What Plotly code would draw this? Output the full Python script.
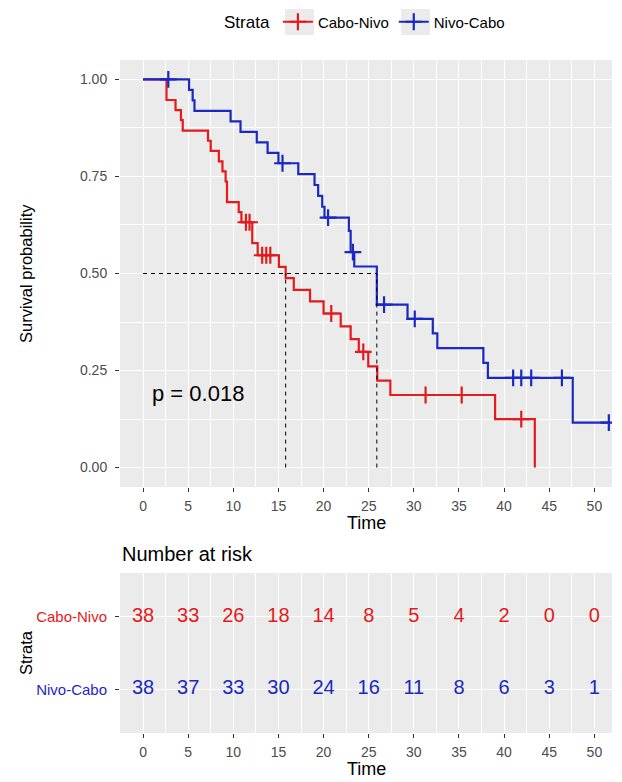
import numpy as np
import plotly.graph_objects as go

# ---------------- data ----------------
strata = ["Cabo-Nivo", "Nivo-Cabo"]
colors = ["#E41A1C", "#1A28C4"]

cabo_time = [0, 2.6, 3.6, 4.2, 4.4, 7.2, 7.5, 8.4, 8.8, 9.15, 9.3, 10.6, 10.9,
             12.1, 12.7, 15.05, 15.8, 16.7, 18.5, 20.0, 21.9, 23.0, 23.9,
             24.95, 25.95, 27.4, 39.0, 43.4]
cabo_surv = [1.0, 0.947, 0.921, 0.895, 0.868, 0.842, 0.816, 0.789, 0.763, 0.737,
             0.684, 0.658, 0.632, 0.578, 0.547, 0.517, 0.488, 0.458, 0.428,
             0.397, 0.364, 0.331, 0.298, 0.261, 0.224, 0.187, 0.125, 0.0]
cabo_censor = [11.4, 11.8, 13.2, 13.65, 14.1, 20.85, 24.4, 31.3, 35.3, 41.9]

nivo_time = [0, 5.1, 5.5, 5.7, 9.7, 10.8, 12.6, 13.8, 15.0, 17.2, 19.0, 19.4,
             19.85, 20.1, 22.8, 23.0, 23.4, 25.9, 29.3, 32.1, 32.6, 37.7, 38.2,
             47.6]
nivo_surv = [1.0, 0.973, 0.946, 0.919, 0.892, 0.865, 0.838, 0.811, 0.784, 0.756,
             0.728, 0.700, 0.672, 0.644, 0.610, 0.555, 0.518, 0.420, 0.383,
             0.346, 0.308, 0.270, 0.231, 0.116]
nivo_censor = [2.8, 15.45, 20.5, 23.25, 26.7, 30.1, 41.0, 41.9, 43.0, 46.4, 51.6]

median_times = [15.8, 25.9]          # Cabo-Nivo, Nivo-Cabo
p_value_label = "p = 0.018"

risk_times = [0, 5, 10, 15, 20, 25, 30, 35, 40, 45, 50]
risk_cabo = [38, 33, 26, 18, 14, 8, 5, 4, 2, 0, 0]
risk_nivo = [38, 37, 33, 30, 24, 16, 11, 8, 6, 3, 1]

x_ticks = [0, 5, 10, 15, 20, 25, 30, 35, 40, 45, 50]
y_ticks = [0, 0.25, 0.5, 0.75, 1.0]
y_tick_labels = ["0.00", "0.25", "0.50", "0.75", "1.00"]

# ---------------- helpers ----------------
W, H = 622, 782
FONT = "Liberation Sans, Arial, sans-serif"


def step_at(times, surv, t):
    i = int(np.searchsorted(np.asarray(times), t, side="right")) - 1
    return surv[i]


fig = go.Figure()

groups = [
    (strata[0], colors[0], cabo_time, cabo_surv, cabo_censor),
    (strata[1], colors[1], nivo_time, nivo_surv, nivo_censor),
]

for name, col, t, s, cens in groups:
    tend = max(max(t), max(cens))
    xs = list(t) + ([tend] if tend > max(t) else [])
    ys = list(s) + ([s[-1]] if tend > max(t) else [])
    fig.add_trace(go.Scatter(x=xs, y=ys, mode="lines", line=dict(color=col, width=2.2, shape="hv"),
                             showlegend=False, hoverinfo="skip", xaxis="x", yaxis="y"))
    fig.add_trace(go.Scatter(x=cens, y=[step_at(t, s, c) for c in cens], mode="markers",
                             marker=dict(symbol="cross-thin", size=12, line=dict(color=col, width=2.2)),
                             showlegend=False, hoverinfo="skip", xaxis="x", yaxis="y"))

# median dashed lines
mx, my = [0, max(median_times)], [0.5, 0.5]
for m in median_times:
    mx += [None, m, m]
    my += [None, 0, 0.5]
fig.add_trace(go.Scatter(x=mx, y=my, mode="lines", line=dict(color="black", width=1, dash="4px,4px"),
                         showlegend=False, hoverinfo="skip", xaxis="x", yaxis="y"))

# legend entries
for name, col, *_ in groups:
    fig.add_trace(go.Scatter(x=[None], y=[None], mode="lines+markers", name=name,
                             line=dict(color=col, width=2.2),
                             marker=dict(symbol="cross-thin", size=12, line=dict(color=col, width=2.2)),
                             xaxis="x", yaxis="y"))

# risk table
for yi, (vals, col) in zip([2, 1], [(risk_cabo, colors[0]), (risk_nivo, colors[1])]):
    fig.add_trace(go.Scatter(x=risk_times, y=[yi] * len(risk_times), mode="text",
                             text=[str(v) for v in vals], textposition="middle center",
                             textfont=dict(family=FONT, size=20, color=col),
                             showlegend=False, hoverinfo="skip", xaxis="x2", yaxis="y2"))

main_dom_x = [120 / W, 612 / W]
axis_common = dict(showline=False, zeroline=False, gridcolor="white", gridwidth=1.4,
                   ticks="outside", ticklen=4, tickwidth=1, tickcolor="#333333")
xfont = dict(family=FONT, size=14, color="#4D4D4D")
yfont = dict(family=FONT, size=14, color="#4D4D4D")

fig.update_layout(
    width=W, height=H, margin=dict(l=0, r=0, t=0, b=0),
    paper_bgcolor="white", plot_bgcolor="#EBEBEB",
    font=dict(family=FONT, color="black"),
    xaxis=dict(domain=main_dom_x, range=[-2.55, 51.95], anchor="y",
               tickmode="array", tickvals=x_ticks, tickfont=xfont, ticklabelstandoff=2,
               minor=dict(dtick=2.5, tick0=0, showgrid=True, gridcolor="white", gridwidth=0.7, ticks=""),
               **axis_common),
    yaxis=dict(domain=[1 - 487 / H, 1 - 60 / H], range=[-0.05, 1.05], anchor="x",
               tickmode="array", tickvals=y_ticks, ticktext=y_tick_labels, tickfont=yfont,
               ticklabelstandoff=5,
               minor=dict(dtick=0.125, tick0=0, showgrid=True, gridcolor="white", gridwidth=0.7, ticks=""),
               **axis_common),
    xaxis2=dict(domain=main_dom_x, range=[-2.55, 51.95], anchor="y2",
                tickmode="array", tickvals=x_ticks, tickfont=xfont, ticklabelstandoff=2,
                minor=dict(dtick=2.5, tick0=0, showgrid=True, gridcolor="white", gridwidth=0.7, ticks=""),
                **axis_common),
    yaxis2=dict(domain=[1 - 733 / H, 1 - 573 / H], range=[0.4, 2.6], anchor="x2",
                tickmode="array", tickvals=[2, 1], tickfont=dict(family=FONT, size=15, color="#4D4D4D"),
                ticklabelstandoff=5,
                ticktext=['<span style="color:%s">%s</span>' % (colors[0], strata[0]),
                          '<span style="color:%s">%s</span>' % (colors[1], strata[1])],
                **axis_common),
    legend=dict(orientation="h", x=222 / W, xanchor="left", y=1 - 22 / H, yanchor="middle",
                bgcolor="rgba(0,0,0,0)", title=dict(text="Strata", font=dict(family=FONT, size=17)),
                font=dict(family=FONT, size=15, color="black"), itemclick=False),
    shapes=[
        dict(type="rect", xref="paper", yref="paper", x0=285 / W, x1=314 / W,
             y0=1 - 35 / H, y1=1 - 9 / H, fillcolor="#EBEBEB", line=dict(width=0), layer="above"),
        dict(type="rect", xref="paper", yref="paper", x0=401 / W, x1=430 / W,
             y0=1 - 35 / H, y1=1 - 9 / H, fillcolor="#EBEBEB", line=dict(width=0), layer="above"),
    ],
    annotations=[
        dict(text="Time", x=366 / W, y=1 - 523 / H, xref="paper", yref="paper", showarrow=False,
             font=dict(family=FONT, size=18, color="black"), xanchor="center", yanchor="middle"),
        dict(text="Time", x=366 / W, y=1 - 769 / H, xref="paper", yref="paper", showarrow=False,
             font=dict(family=FONT, size=18, color="black"), xanchor="center", yanchor="middle"),
        dict(text="Survival probability", x=26 / W, y=1 - 274 / H, xref="paper", yref="paper",
             showarrow=False, textangle=-90,
             font=dict(family=FONT, size=16.5, color="black"), xanchor="center", yanchor="middle"),
        dict(text="Strata", x=26 / W, y=1 - 653 / H, xref="paper", yref="paper",
             showarrow=False, textangle=-90,
             font=dict(family=FONT, size=16.5, color="black"), xanchor="center", yanchor="middle"),
        dict(text="Number at risk", x=120 / W, y=1 - 554 / H, xref="paper", yref="paper",
             showarrow=False, font=dict(family=FONT, size=20, color="black"),
             xanchor="left", yanchor="middle"),
        dict(text=p_value_label, x=0.8, y=0.19, xref="x", yref="y", showarrow=False,
             font=dict(family=FONT, size=22, color="black"), xanchor="left", yanchor="middle"),
    ],
)

fig.write_html("out.html")
